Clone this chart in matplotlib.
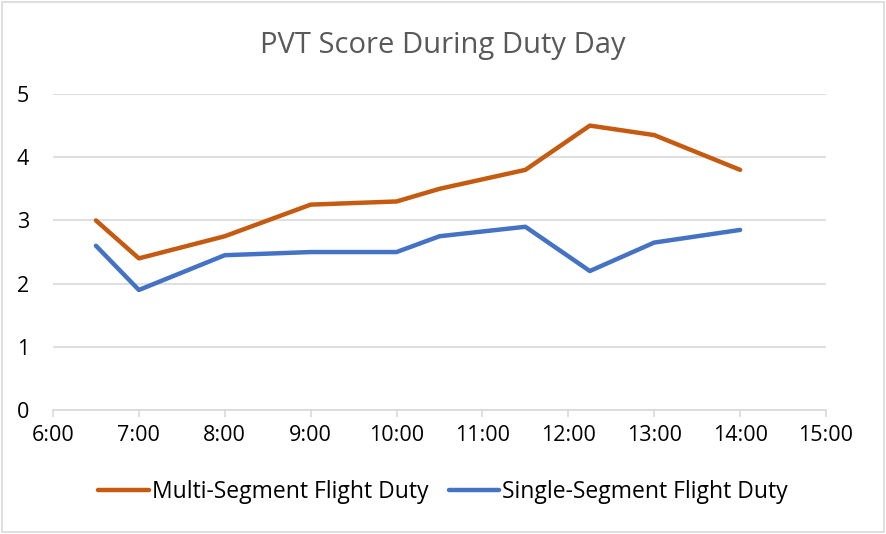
import numpy as np
import matplotlib.pyplot as plt
from matplotlib.patches import Rectangle

# times in hours since midnight
hours = [6.5, 7.0, 8.0, 9.0, 10.0, 10.5, 11.5, 12.25, 13.0, 14.0]
multi = [3.0, 2.4, 2.75, 3.25, 3.3, 3.5, 3.8, 4.5, 4.35, 3.8]
single = [2.6, 1.9, 2.45, 2.5, 2.5, 2.75, 2.9, 2.2, 2.65, 2.85]

xticks = list(range(6, 16))
xtick_labels = ['%d:00' % h for h in xticks]
yticks = [0, 1, 2, 3, 4, 5]

plt.rcParams['font.family'] = ['Open Sans', 'DejaVu Sans']

fig = plt.figure(figsize=(8.86, 5.34), dpi=100)
ax = fig.add_axes([0.0598, 0.232, 0.8725, 0.592])

ax.plot(hours, multi, color='#C55A11', lw=3.2, solid_capstyle='round',
        solid_joinstyle='round', label='Multi-Segment Flight Duty')
ax.plot(hours, single, color='#4472C4', lw=3.2, solid_capstyle='round',
        solid_joinstyle='round', label='Single-Segment Flight Duty')

ax.set_xlim(6, 15)
ax.set_ylim(0, 5)
ax.set_xticks(xticks)
ax.set_xticklabels(xtick_labels)
ax.set_yticks(yticks)
ax.yaxis.grid(True, color='#D9D9D9', lw=1.2)
ax.set_axisbelow(True)
for s in ['top', 'right', 'left']:
    ax.spines[s].set_visible(False)
ax.spines['bottom'].set_color('#D9D9D9')
ax.spines['bottom'].set_linewidth(1.2)
ax.tick_params(axis='x', colors='#D9D9D9', labelcolor='black', length=5,
               width=1.2, labelsize=15.5, pad=6)
ax.tick_params(axis='y', length=0, labelsize=15.5, pad=26)
for lbl in ax.get_yticklabels():
    lbl.set_horizontalalignment('left')

fig.text(0.5, 0.915, 'PVT Score During Duty Day', ha='center', va='center',
         fontsize=21, color='#595959')

fig.legend(loc='center', bbox_to_anchor=(0.5, 0.078), ncol=2, frameon=False,
           fontsize=16.5, handlelength=2.2, columnspacing=0.9, handletextpad=0.12)

fig.patches.append(Rectangle((0.002, 0.003), 0.996, 0.994, transform=fig.transFigure,
                             fill=False, edgecolor='#D9D9D9', lw=1.2))

fig.savefig('out.png', dpi=100, facecolor='white')
